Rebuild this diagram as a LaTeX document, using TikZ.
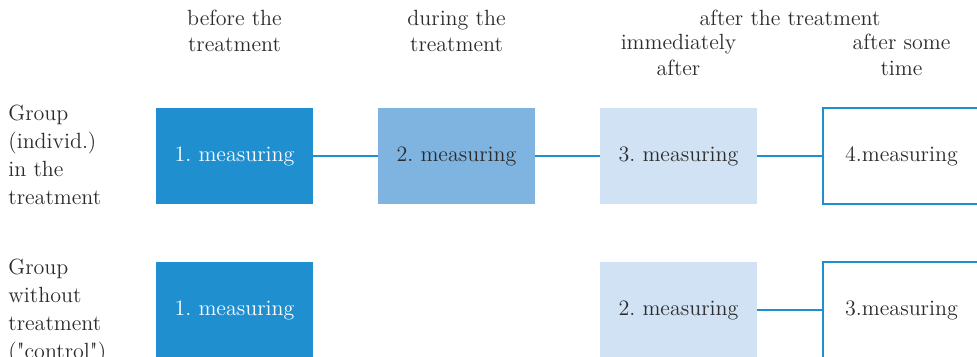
\documentclass[tikz,border=0pt]{standalone}
\usepackage{fontspec}
\usepackage{tikz}
\usetikzlibrary{positioning,calc}
\definecolor{mblue}{HTML}{1F8FD0}
\definecolor{mmid}{HTML}{7FB3E0}
\definecolor{mlight}{HTML}{D0E2F3}
\definecolor{mtext}{HTML}{2B2B2B}
\frenchspacing

\begin{document}
\begin{tikzpicture}[node distance=29pt and 32.5pt,
	meas node/.style={rectangle,minimum width=78.5pt,minimum height=48pt,
		inner sep=0pt,outer sep=0pt,text=mtext,font=\fontsize{11}{13}\selectfont},
	head node/.style={align=center,inner sep=0pt,text=mtext,
		font=\fontsize{11}{13}\selectfont},
	group node/.style={align=left,inner sep=0pt,anchor=north west,text=mtext,
		font=\fontsize{11}{14}\selectfont},
	link/.style={color=mblue,line width=0.7pt}]

	\useasboundingbox (0,0) rectangle (488.5pt,178.5pt);
	\clip (0,0) rectangle (488.5pt,178.5pt);

	% treatment group
	\node[meas node,fill=mblue,text=white] (m1) at (117.25pt,100.5pt) {1. measuring};
	\node[meas node,fill=mmid] (m2) [right=of m1] {2. measuring};
	\node[meas node,fill=mlight] (m3) [right=of m2] {3. measuring};
	\node[meas node,fill=white,draw=mblue,line width=1pt] (m4) [right=33pt of m3] {4.measuring};

	% control group
	\node[meas node,fill=mblue,text=white] (c1) [below=of m1] {1. measuring};
	\node[meas node,fill=mlight] (c2) [below=of m3] {2. measuring};
	\node[meas node,fill=white,draw=mblue,line width=1pt] (c3) [below=of m4] {3.measuring};

	% headings
	\node[head node] (h1) [above=28pt of m1] {before the\\treatment};
	\node[head node] (h2) [above=28pt of m2] {during the\\treatment};
	\node[head node] (h3) [above=16pt of m3] {immediately\\after};
	\node[head node] (h4) [above=16pt of m4] {after some\\time};
	\node[head node,anchor=base] (h34) at ($($(m3.north)!.5!(m4.north)$)+(0,41pt)$) {after the treatment};

	\node[group node] (g1) at (4pt,126pt) {Group\\(individ.)\\in the\\treatment};
	\node[group node] (g2) at (4pt,49pt) {Group\\without\\treatment\\(\textquotedbl control\textquotedbl)};

	\path[link]
	(m1) edge (m2)
	(m2) edge (m3)
	(m3) edge (m4)
	(c2) edge (c3);

\end{tikzpicture}
\end{document}
